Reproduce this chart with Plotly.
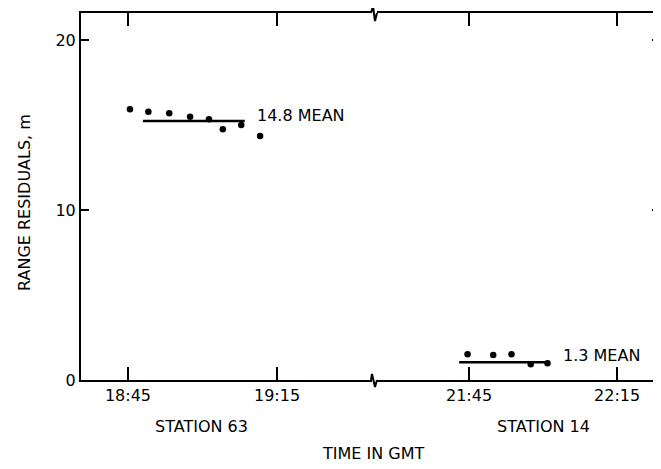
import plotly.graph_objects as go

# ---- data (time in minutes since 00:00 GMT) ----
st63_time = [1125.4, 1129.1, 1133.3, 1137.5, 1141.3, 1144.1, 1147.8, 1151.6]
st63_resid = [15.92, 15.78, 15.69, 15.49, 15.34, 14.75, 15.0, 14.35]
st63_mean_time = [1128.0, 1148.5]
st63_mean_val = [15.24, 15.24]

st14_time = [1304.7, 1309.9, 1313.6, 1317.5, 1320.9]
st14_resid = [1.51, 1.47, 1.51, 0.92, 0.98]
st14_mean_time = [1303.0, 1321.4]
st14_mean_val = [1.04, 1.04]

left_tickvals = [1125, 1155]
left_ticktext = ["18:45", "19:15"]
right_tickvals = [1305, 1335]
right_ticktext = ["21:45", "22:15"]
y_tickvals = [0, 10, 20]

FONT = "DejaVu Sans"
OFF = 8  # default page body margin
W, H = 661 - OFF, 469 - OFF
X0, X1, Y0, Y1 = 81, 661, 13, 380  # plot area in window pixels
ML, MT = X0 - OFF, Y0 - OFF
PW, PH = X1 - X0, Y1 - Y0
MR, MB = W - ML - PW, H - MT - PH

def px(x):
    return (x - X0) / PW

def py(y):
    return (Y1 - y) / PH

fig = go.Figure()

fig.add_trace(go.Scatter(x=st63_time, y=st63_resid, mode="markers",
                         marker=dict(color="black", size=6.5), xaxis="x", yaxis="y"))
fig.add_trace(go.Scatter(x=st63_mean_time, y=st63_mean_val, mode="lines",
                         line=dict(color="black", width=2.5), xaxis="x", yaxis="y"))
fig.add_trace(go.Scatter(x=st14_time, y=st14_resid, mode="markers",
                         marker=dict(color="black", size=6.5), xaxis="x2", yaxis="y"))
fig.add_trace(go.Scatter(x=st14_mean_time, y=st14_mean_val, mode="lines",
                         line=dict(color="black", width=2.5), xaxis="x2", yaxis="y"))
# invisible trace to activate right-side y ticks
fig.add_trace(go.Scatter(x=[1300], y=[0], mode="markers", marker=dict(opacity=0),
                         xaxis="x2", yaxis="y2", hoverinfo="skip"))

xcommon = dict(showline=True, linecolor="black", linewidth=2, mirror="ticks",
               ticks="inside", ticklen=13, tickwidth=2, tickcolor="black",
               showgrid=False, zeroline=False,
               tickfont=dict(family=FONT, size=16, color="black"))

yr = [0, PH / 17.0]
fig.update_layout(
    width=W, height=H,
    margin=dict(l=ML, r=MR, t=MT, b=MB, autoexpand=False),
    paper_bgcolor="white", plot_bgcolor="white",
    showlegend=False,
    xaxis=dict(domain=[0, px(372)], range=[1115.54, 1174.12],
               tickvals=left_tickvals, ticktext=left_ticktext, **xcommon),
    xaxis2=dict(domain=[px(377), 1], range=[1286.35, 1343.9], anchor="y",
                tickvals=right_tickvals, ticktext=right_ticktext, **xcommon),
    yaxis=dict(range=yr, tickvals=y_tickvals, showline=True,
               linecolor="black", linewidth=2, ticks="inside", ticklen=8,
               tickwidth=2, tickcolor="black", showgrid=False, zeroline=False,
               tickfont=dict(family=FONT, size=16, color="black")),
    yaxis2=dict(range=yr, tickvals=y_tickvals, overlaying="y",
                side="right", anchor="x2", showline=False, ticks="inside",
                ticklen=9, tickwidth=2, tickcolor="black", showticklabels=False,
                showgrid=False, zeroline=False),
)

# break symbols
def zig(points):
    return "M " + " L ".join(f"{px(a):.5f},{py(b):.5f}" for a, b in points)

brk_bottom = [(371, 380), (372, 374), (375, 387), (377, 380)]
brk_top = [(371, 13), (373, 6), (375, 21), (377, 13)]
for pts in (brk_bottom, brk_top):
    fig.add_shape(type="path", path=zig(pts), xref="paper", yref="paper",
                  line=dict(color="black", width=2))

ann_font = dict(family=FONT, size=16, color="black")
fig.add_annotation(x=1150.5, y=15.53, xref="x", yref="y", text="14.8 MEAN",
                   showarrow=False, xanchor="left", yanchor="middle", font=ann_font)
fig.add_annotation(x=1323.6, y=1.47, xref="x2", yref="y", text="1.3 MEAN",
                   showarrow=False, xanchor="left", yanchor="middle", font=ann_font)
for label, xx, yy, ang in [("STATION 63", 201, 426, 0),
                           ("STATION 14", 543, 426, 0),
                           ("TIME IN GMT", 373, 453, 0),
                           ("RANGE RESIDUALS, m", 24, 203, -90)]:
    fig.add_annotation(x=px(xx), y=py(yy), xref="paper", yref="paper",
                       text=label, textangle=ang, showarrow=False,
                       xanchor="center", yanchor="middle", font=ann_font)

fig.write_html("out.html")
